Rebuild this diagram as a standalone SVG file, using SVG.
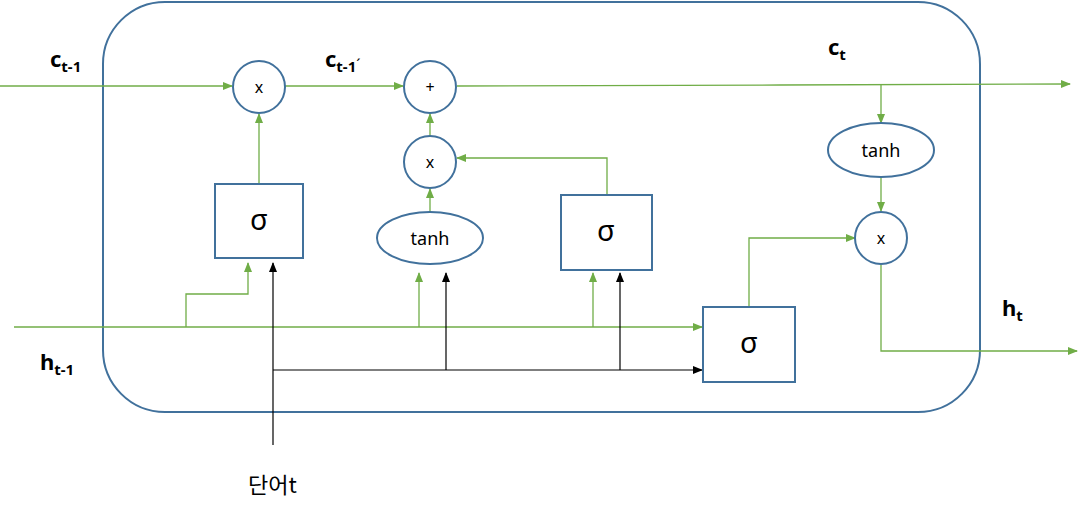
<svg xmlns="http://www.w3.org/2000/svg" width="1087" height="512" viewBox="0 0 1087 512">
<defs>
<marker id="ag" markerWidth="10" markerHeight="10" refX="9" refY="4" orient="auto" markerUnits="userSpaceOnUse"><path d="M0,0 L10,4 L0,8 z" fill="#70AD47"/></marker>
<marker id="ab" markerWidth="10" markerHeight="10" refX="9" refY="4" orient="auto" markerUnits="userSpaceOnUse"><path d="M0,0 L10,4 L0,8 z" fill="#000"/></marker>
</defs>
<style>
.n{fill:#fff;stroke:#41719C;stroke-width:2}
.g{fill:none;stroke:#70AD47;stroke-width:1.3}
.k{fill:none;stroke:#000;stroke-width:1.2}
.op{font-family:"Noto Sans","Noto Sans CJK KR",sans-serif;font-size:16px;text-anchor:middle;fill:#000}
.sg{font-family:"Noto Sans","DejaVu Sans",sans-serif;font-size:29px;text-anchor:middle;fill:#000}
.th{font-family:"Noto Sans","Noto Sans CJK KR",sans-serif;font-size:18px;text-anchor:middle;fill:#000}
.lb{font-family:"Noto Sans","Noto Sans CJK KR",sans-serif;font-size:22px;font-weight:bold;fill:#000}
.sb{font-size:15px}
</style>
<rect id="cell" x="103" y="2" width="877" height="410" rx="62" ry="62" fill="none" stroke="#41719C" stroke-width="2"/>
<g id="connectors">
<line class="g" x1="0" y1="86" x2="232" y2="86" marker-end="url(#ag)"/>
<line class="g" x1="285" y1="86" x2="403" y2="86" marker-end="url(#ag)"/>
<polyline class="g" points="457,86 780,85 1070,84" marker-end="url(#ag)"/>
<line class="g" x1="259" y1="184" x2="259" y2="114" marker-end="url(#ag)"/>
<line class="g" x1="430" y1="136" x2="430" y2="114" marker-end="url(#ag)"/>
<line class="g" x1="430" y1="212" x2="430" y2="189" marker-end="url(#ag)"/>
<polyline class="g" points="607,195 607,158 457,158" marker-end="url(#ag)"/>
<line class="g" x1="14" y1="327" x2="702" y2="327" marker-end="url(#ag)"/>
<polyline class="g" points="186,327 186,294 248,294 248,263" marker-end="url(#ag)"/>
<line class="g" x1="419" y1="327" x2="419" y2="273" marker-end="url(#ag)"/>
<line class="g" x1="593" y1="327" x2="593" y2="273" marker-end="url(#ag)"/>
<polyline class="g" points="749,307 749,238 855,238" marker-end="url(#ag)"/>
<line class="g" x1="881" y1="85" x2="881" y2="123" marker-end="url(#ag)"/>
<line class="g" x1="881" y1="177" x2="881" y2="211" marker-end="url(#ag)"/>
<polyline class="g" points="881,265 881,351 1077,351" marker-end="url(#ag)"/>
<line class="k" x1="273" y1="445" x2="273" y2="263" marker-end="url(#ab)"/>
<line class="k" x1="273" y1="370" x2="702" y2="370" marker-end="url(#ab)"/>
<line class="k" x1="446" y1="370" x2="446" y2="273" marker-end="url(#ab)"/>
<line class="k" x1="620" y1="370" x2="620" y2="273" marker-end="url(#ab)"/>
</g>
<g id="mul1"><circle class="n" cx="259" cy="87" r="26"/><text class="op" x="259" y="93">x</text></g>
<g id="add"><circle class="n" cx="430" cy="87" r="26"/><text class="op" x="430" y="93">+</text></g>
<g id="mul2"><circle class="n" cx="430" cy="162" r="26"/><text class="op" x="430" y="168">x</text></g>
<g id="mul3"><circle class="n" cx="881" cy="238" r="26"/><text class="op" x="881" y="244">x</text></g>
<g id="sig1"><rect class="n" x="215" y="184" width="88" height="74"/><text class="sg" x="259" y="230">σ</text></g>
<g id="sig2"><rect class="n" x="561" y="195" width="91" height="75"/><text class="sg" x="606" y="241">σ</text></g>
<g id="sig3"><rect class="n" x="703" y="307" width="92" height="75"/><text class="sg" x="749" y="353">σ</text></g>
<g id="tanh1"><ellipse class="n" cx="430" cy="238" rx="53" ry="26"/><text class="th" x="430" y="245">tanh</text></g>
<g id="tanh2"><ellipse class="n" cx="881" cy="150" rx="53" ry="27"/><text class="th" x="881" y="157">tanh</text></g>
<g id="labels">
<text class="lb" x="50" y="67">c<tspan class="sb" dy="5">t-1</tspan></text>
<text class="lb" x="325" y="67">c<tspan class="sb" dy="5">t-1</tspan><tspan class="sb" dy="-2" font-weight="normal">´</tspan></text>
<text class="lb" x="828" y="55">c<tspan class="sb" dy="5">t</tspan></text>
<text class="lb" x="1002" y="316">h<tspan class="sb" dy="5">t</tspan></text>
<text class="lb" x="40" y="370">h<tspan class="sb" dy="5">t-1</tspan></text>
<text x="248" y="493" font-family="Noto Sans CJK KR, sans-serif" font-size="22" fill="#000">단어t</text>
</g>
</svg>
